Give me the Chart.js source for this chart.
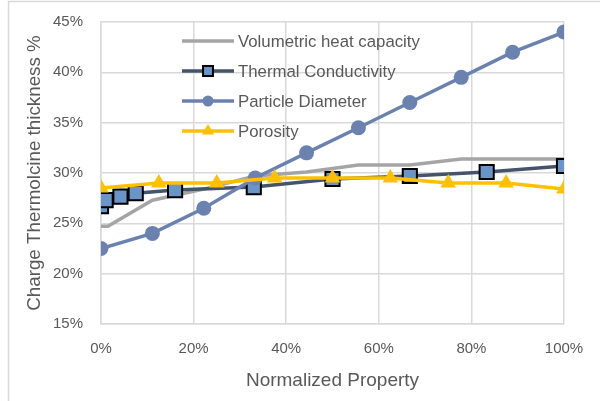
<!DOCTYPE html>
<html>
<head>
<meta charset="utf-8">
<script src="https://cdn.jsdelivr.net/npm/chart.js@4/dist/chart.umd.min.js"></script>
<style>
  html, body { margin: 0; padding: 0; background: #fff; }
  #wrap { width: 600px; height: 401px; position: relative; }
</style>
</head>
<body>
<div id="wrap"><canvas id="c" width="600" height="401"></canvas></div>
<script>
// Normalized property (x, %) and charge thickness (y, %) for each parameter sweep
const volHeatX = [0, 1.5, 11.1, 22.2, 33.3, 44.4, 55.6, 66.7, 77.8, 88.9, 100];
const volHeatY = [24.7, 24.7, 27.3, 28.4, 29.7, 30.1, 30.8, 30.8, 31.4, 31.4, 31.4];

const condX = [0, 1, 4.2, 7.5, 16, 33, 50, 66.7, 83.3, 100];
const condY = [26.7, 27.3, 27.65, 28.0, 28.3, 28.6, 29.4, 29.7, 30.1, 30.7];

const diamX = [0, 11.1, 22.2, 33.3, 44.4, 55.6, 66.7, 77.8, 88.9, 100];
const diamY = [22.5, 24.0, 26.5, 29.5, 32.0, 34.5, 37.0, 39.5, 42.0, 44.0];

const poroX = [0, 12.5, 25, 37.5, 50, 62.5, 75, 87.5, 100];
const poroY = [28.5, 29.0, 29.0, 29.5, 29.5, 29.5, 29.0, 29.0, 28.4];

const seriesNames = ['Volumetric heat capacity', 'Thermal Conductivity', 'Particle Diameter', 'Porosity'];
const xTitle = 'Normalized Property';
const yTitle = 'Charge Thermolcine thickness %';

const toPoints = (xs, ys) => xs.map((x, i) => ({ x: x, y: ys[i] }));

const FONT = "'Liberation Sans', Arial, sans-serif";
const TEXT = '#595959';
const GRID = '#D9D9D9';

// Outer frame of the chart object
const framePlugin = {
  id: 'frame',
  beforeDraw(chart) {
    const ctx = chart.ctx;
    ctx.save();
    ctx.fillStyle = '#fff';
    ctx.fillRect(0, 0, chart.width, chart.height);
    ctx.strokeStyle = GRID;
    ctx.lineWidth = 1.5;
    ctx.beginPath();
    ctx.moveTo(8.5, chart.height);
    ctx.lineTo(8.5, 1.5);
    ctx.lineTo(chart.width, 1.5);
    ctx.stroke();
    ctx.restore();
  }
};

function drawMarker(ctx, style, x, y, r) {
  if (style === 'circle') {
    ctx.arc(x, y, r, 0, Math.PI * 2);
  } else if (style === 'rect') {
    const s = r * Math.SQRT1_2;
    ctx.rect(x - s, y - s, 2 * s, 2 * s);
  } else if (style === 'triangle') {
    ctx.moveTo(x, y - r);
    ctx.lineTo(x + r * Math.sin(2 * Math.PI / 3), y - r * Math.cos(2 * Math.PI / 3));
    ctx.lineTo(x + r * Math.sin(4 * Math.PI / 3), y - r * Math.cos(4 * Math.PI / 3));
    ctx.closePath();
  }
}

// Legend drawn inside the plot area, using each dataset's own style
const innerLegend = {
  id: 'innerLegend',
  afterDraw(chart) {
    const ctx = chart.ctx;
    const x0 = 182, x1 = 234, tx = 238;
    const rows = [41, 71, 101, 131];
    ctx.save();
    chart.data.datasets.forEach((ds, k) => {
      const y = rows[k];
      ctx.strokeStyle = ds.borderColor;
      ctx.lineWidth = ds.borderWidth;
      ctx.lineCap = 'butt';
      ctx.beginPath();
      ctx.moveTo(x0, y);
      ctx.lineTo(x1, y);
      ctx.stroke();
      if (ds.pointRadius > 0) {
        ctx.fillStyle = ds.pointBackgroundColor;
        ctx.strokeStyle = ds.pointBorderColor;
        ctx.lineWidth = ds.pointBorderWidth;
        ctx.beginPath();
        drawMarker(ctx, ds.pointStyle, (x0 + x1) / 2, y, ds.legendRadius);
        ctx.fill();
        if (ds.pointBorderWidth) ctx.stroke();
      }
      ctx.fillStyle = TEXT;
      ctx.font = '16.8px ' + FONT;
      ctx.textBaseline = 'middle';
      ctx.textAlign = 'left';
      ctx.fillText(seriesNames[k], tx, y + 1);
    });
    ctx.restore();
  }
};

const chart = new Chart(document.getElementById('c'), {
  type: 'scatter',
  data: {
    datasets: [
      {
        label: seriesNames[0],
        data: toPoints(volHeatX, volHeatY),
        showLine: true,
        borderColor: '#A5A5A5',
        borderWidth: 3.5,
        pointRadius: 0,
        pointHoverRadius: 0,
        order: 4
      },
      {
        label: seriesNames[1],
        data: toPoints(condX, condY),
        showLine: true,
        borderColor: '#44546A',
        borderWidth: 3.5,
        pointStyle: 'rect',
        pointRadius: 10,
        legendRadius: 7,
        pointBackgroundColor: '#6A95C8',
        pointBorderColor: '#000000',
        pointBorderWidth: 2,
        order: 3
      },
      {
        label: seriesNames[2],
        data: toPoints(diamX, diamY),
        showLine: true,
        borderColor: '#6B82B0',
        borderWidth: 3.5,
        pointStyle: 'circle',
        pointRadius: 7.5,
        legendRadius: 5.5,
        pointBackgroundColor: '#6B82B0',
        pointBorderColor: '#6B82B0',
        pointBorderWidth: 0,
        order: 2
      },
      {
        label: seriesNames[3],
        data: toPoints(poroX, poroY),
        showLine: true,
        borderColor: '#FFC000',
        borderWidth: 3.5,
        pointStyle: 'triangle',
        pointRadius: 9,
        legendRadius: 7,
        pointBackgroundColor: '#FFC000',
        pointBorderColor: '#FFC000',
        pointBorderWidth: 0,
        order: 1
      }
    ]
  },
  options: {
    responsive: false,
    animation: false,
    devicePixelRatio: 1,
    layout: { padding: { left: 8, top: 22, right: 36, bottom: 0 } },
    plugins: {
      legend: { display: false },
      tooltip: { enabled: false }
    },
    scales: {
      x: {
        type: 'linear',
        min: 0,
        max: 100,
        ticks: {
          stepSize: 20,
          color: TEXT,
          font: { family: FONT, size: 15 },
          padding: 16,
          callback: v => v + '%'
        },
        grid: { color: GRID, lineWidth: 1.5, drawTicks: false },
        border: { color: GRID, width: 1.5 },
        title: {
          display: true,
          text: xTitle,
          color: TEXT,
          font: { family: FONT, size: 19 },
          padding: { top: 0, bottom: 8.6 }
        },
        afterFit(scale) { scale.height = 77; }
      },
      y: {
        type: 'linear',
        min: 15,
        max: 45,
        ticks: {
          stepSize: 5,
          color: TEXT,
          font: { family: FONT, size: 15 },
          padding: 18,
          callback: v => v + '%'
        },
        grid: { color: GRID, lineWidth: 1.5, drawTicks: false },
        border: { color: GRID, width: 1.5 },
        title: {
          display: true,
          text: yTitle,
          color: TEXT,
          font: { family: FONT, size: 18.8 },
          padding: { top: 15.6, bottom: 0 }
        },
        afterFit(scale) {
          scale.width = 93;
          scale.paddingTop = 0;
          scale.paddingBottom = 0;
        }
      }
    }
  },
  plugins: [framePlugin, innerLegend]
});
</script>
</body>
</html>
